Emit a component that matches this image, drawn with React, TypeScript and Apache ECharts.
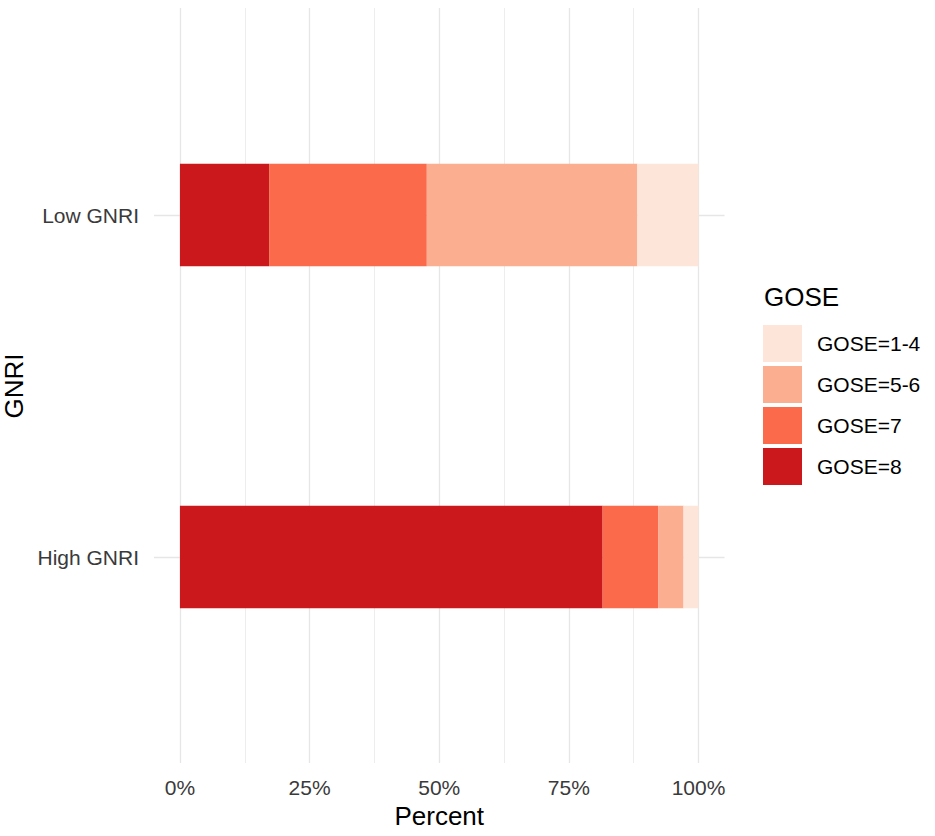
import React, { useEffect, useRef } from "react";
import * as echarts from "echarts";

const categories = ["High GNRI", "Low GNRI"];
const legendOrder = ["GOSE=1-4", "GOSE=5-6", "GOSE=7", "GOSE=8"];
const gose8 = [81.5, 17.2];
const gose7 = [10.7, 30.4];
const gose56 = [4.9, 40.6];
const gose14 = [2.9, 11.8];
const xTicks = [0, 25, 50, 75, 100];

const FONT = "'Liberation Sans', Arial, sans-serif";
const GRID_COLOR = "#e6e6e6";

export default function App() {
  const ref = useRef<HTMLDivElement>(null);
  useEffect(() => {
    if (!ref.current) return;
    const chart = echarts.init(ref.current, null, { renderer: "svg" });
    const seriesDefs = [
      { name: "GOSE=8", data: gose8, color: "#CB181D" },
      { name: "GOSE=7", data: gose7, color: "#FB6A4A" },
      { name: "GOSE=5-6", data: gose56, color: "#FCAE91" },
      { name: "GOSE=1-4", data: gose14, color: "#FEE5D9" },
    ];
    const option: any = {
      animation: false,
      backgroundColor: "#ffffff",
      textStyle: { fontFamily: FONT },
      title: {
        text: "GOSE",
        left: 764,
        top: 284,
        padding: 0,
        textStyle: { fontSize: 26, fontWeight: "normal", color: "#000", fontFamily: FONT },
      },
      legend: {
        orient: "vertical",
        left: 763,
        top: 325,
        padding: 0,
        icon: "rect",
        itemWidth: 39,
        itemHeight: 37,
        itemGap: 4,
        data: legendOrder,
        textStyle: { fontSize: 21, color: "#000", fontFamily: FONT, padding: [0, 0, 0, 10] },
        selectedMode: false,
      },
      grid: [
        {
          left: 154,
          right: 935 - 724.5,
          top: 44,
          bottom: 836 - 728,
          containLabel: false,
          outerBoundsMode: "none",
        },
        {
          left: 180,
          right: 935 - 698.5,
          top: 8,
          bottom: 836 - 763,
          containLabel: false,
          outerBoundsMode: "none",
        },
      ],
      xAxis: [
        {
          gridIndex: 0,
          type: "value",
          min: -5,
          max: 105,
          show: false,
          splitLine: { show: false },
        },
        {
          gridIndex: 1,
          type: "value",
          min: xTicks[0],
          max: xTicks[xTicks.length - 1],
          interval: 25,
          axisLine: { show: false },
          axisTick: { show: false },
          minorTick: { show: false, splitNumber: 2 },
          splitLine: { show: true, lineStyle: { color: GRID_COLOR, width: 1.3 } },
          minorSplitLine: { show: true, lineStyle: { color: "#ebebeb", width: 0.9 } },
          axisLabel: {
            formatter: "{value}%",
            fontSize: 21,
            color: "#3a3a3a",
            margin: 14,
            fontFamily: FONT,
          },
          name: "Percent",
          nameLocation: "middle",
          nameGap: 39,
          nameTextStyle: { fontSize: 26, color: "#000", fontFamily: FONT },
        },
      ],
      yAxis: [
        {
          gridIndex: 0,
          type: "category",
          data: categories,
          axisLine: { show: false },
          axisTick: { show: false },
          splitLine: { show: false },
          axisLabel: { fontSize: 21, color: "#3a3a3a", margin: 15, fontFamily: FONT },
          name: "GNRI",
          nameLocation: "middle",
          nameGap: 122,
          nameTextStyle: { fontSize: 26, color: "#000", fontFamily: FONT },
        },
        {
          gridIndex: 1,
          type: "value",
          show: false,
          splitLine: { show: false },
        },
      ],
      series: seriesDefs.map((s, i) => ({
        type: "bar",
        name: s.name,
        stack: "total",
        xAxisIndex: 0,
        yAxisIndex: 0,
        barWidth: "30%",
        data: s.data,
        itemStyle: { color: s.color },
        z: 3,
        ...(i === 0
          ? {
              markLine: {
                silent: true,
                symbol: "none",
                z: 1,
                label: { show: false },
                lineStyle: { color: GRID_COLOR, width: 1.3, type: "solid" },
                data: categories.map((c) => ({ yAxis: c })),
              },
            }
          : {}),
      })),
    };
    chart.setOption(option);
    return () => chart.dispose();
  }, []);
  return (
    <div
      ref={ref}
      style={{ position: "absolute", left: 0, top: 0, width: 935, height: 836 }}
    />
  );
}
